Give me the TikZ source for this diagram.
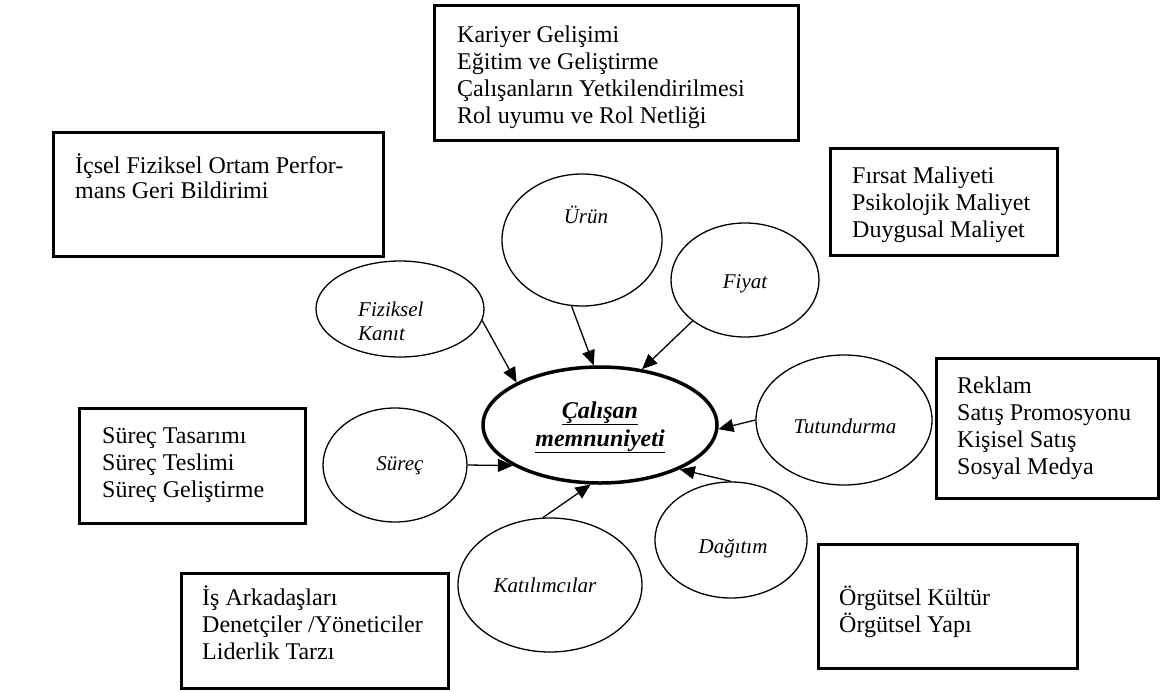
\documentclass[tikz,border=0pt]{standalone}
\usepackage{fontspec}
\setmainfont{Liberation Serif}
\usetikzlibrary{shapes.geometric,arrows.meta}
\begin{document}
\begin{tikzpicture}[x=1pt,y=-1pt,
  frame/.style={draw, line width=3pt, inner sep=0pt},
  % multi-line texts are anchored at the baseline of their last line
  list/.style={anchor=base west, align=left, inner sep=0pt, font=\fontsize{24}{27}\selectfont},
  oval/.style={draw, ellipse, line width=1.3pt, inner sep=0pt},
  tag/.style={anchor=base, inner sep=0pt, font=\fontsize{21}{24}\selectfont\itshape},
  arr/.style={line width=1.3pt, -{Triangle[length=15pt,width=13pt]}},
]
\fill[white] (0,0) rectangle (1162,691);
\useasboundingbox (0,0) rectangle (1162,691);

% text boxes
\node[frame, minimum width=364pt, minimum height=135pt] (bkariyer) at (616,72.5) {};
\node[list] (tkariyer) at (457,123) {Kariyer Gelişimi\\Eğitim ve Geliştirme\\Çalışanların Yetkilendirilmesi\\Rol uyumu ve Rol Netliği};

\node[frame, minimum width=330pt, minimum height=124pt] (bicsel) at (218,194) {};
\node[list, font=\fontsize{24}{25}\selectfont] (ticsel) at (75,198) {İçsel Fiziksel Ortam Perfor-\\mans Geri Bildirimi};

\node[frame, minimum width=227pt, minimum height=107pt] (bmaliyet) at (943.5,201.5) {};
\node[list] (tmaliyet) at (852,237) {Fırsat Maliyeti\\Psikolojik Maliyet\\Duygusal Maliyet};

\node[frame, minimum width=222pt, minimum height=140pt] (breklam) at (1047,428) {};
\node[list] (treklam) at (957,474) {Reklam\\Satış Promosyonu\\Kişisel Satış\\Sosyal Medya};

\node[frame, minimum width=226pt, minimum height=115pt] (bsurec) at (192,465.5) {};
\node[list] (tsurec) at (102,497) {Süreç Tasarımı\\Süreç Teslimi\\Süreç Geliştirme};

\node[frame, minimum width=267pt, minimum height=115pt] (bis) at (314.5,630.5) {};
\node[list] (tis) at (202,659) {İş Arkadaşları\\Denetçiler /Yöneticiler\\Liderlik Tarzı};

\node[frame, minimum width=259pt, minimum height=124pt] (borgut) at (947.5,606) {};
\node[list] (torgut) at (839,632) {Örgütsel Kültür\\Örgütsel Yapı};

% central ellipse
\node[oval, line width=3.5pt, minimum width=234pt, minimum height=116pt] (calisan) at (600,425) {};
\node[anchor=base, align=center, inner sep=0pt, font=\fontsize{24}{28}\selectfont\bfseries\itshape] (tcalisan) at (600,446) {\underline{Çalışan}\\\underline{memnuniyeti}};

% surrounding ellipses
\node[oval, minimum width=160pt, minimum height=132pt] (urun) at (582,240) {};
\node[tag] (turun) at (586,223) {Ürün};

\node[oval, minimum width=148pt, minimum height=114pt] (fiyat) at (745,280) {};
\node[tag] (tfiyat) at (745,288) {Fiyat};

\node[oval, minimum width=168pt, minimum height=96pt] (fizik) at (400,309) {};
\node[tag, anchor=base west, align=left] (tfizik) at (358,340) {Fiziksel\\Kanıt};

\node[oval, minimum width=176pt, minimum height=130pt] (tutun) at (844,420) {};
\node[tag] (ttutun) at (845,433) {Tutundurma};

\node[oval, minimum width=144pt, minimum height=114pt] (surec) at (395,465) {};
\node[tag] (tsurecl) at (400,470) {Süreç};

\node[oval, minimum width=184pt, minimum height=134pt] (katil) at (550,585) {};
\node[tag] (tkatil) at (545,592) {Katılımcılar};

\node[oval, minimum width=152pt, minimum height=116pt] (dagit) at (731,540) {};
\node[tag] (tdagit) at (733,553) {Dağıtım};

% connectors
\draw[arr] (urun.-99) -- (calisan.96);
\draw[arr] (fiyat.-142) -- (calisan.53);
\draw[arr] (fizik.-8) -- (calisan.153);
\draw[arr] (tutun.west) -- (calisan.-2);
\draw[arr] (surec.east) -- (calisan.-155);
\draw[arr] (katil.96) -- (calisan.-99);
\draw[arr] (dagit.north) -- (calisan.-29);
\end{tikzpicture}
\end{document}
